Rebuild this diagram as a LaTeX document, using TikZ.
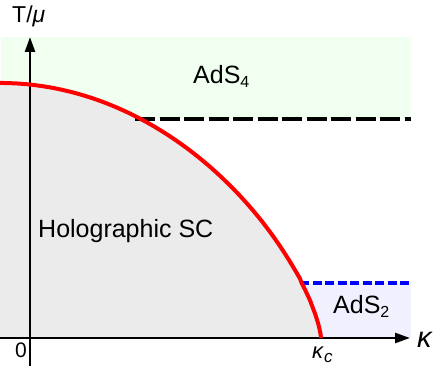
\documentclass[tikz,border=0pt]{standalone}
\usepackage{fontspec}
\setmainfont{Liberation Sans}
\usetikzlibrary{arrows.meta}
\definecolor{bggreen}{HTML}{F0FFF0}
\definecolor{bggray}{HTML}{EBEBEB}
\definecolor{bgblue}{HTML}{F0F0FF}
\tikzset{
  axisline/.style={line width=2.5pt, -{Triangle[length=15pt,width=10pt]}},
  phaseline/.style={red, line width=4pt},
  lbl/.style={anchor=base west, inner sep=0pt, font=\fontsize{25}{30}\selectfont},
  curvedom/.style={domain=0:320.6, samples=250, smooth}
}
\newcommand{\subtxt}[1]{\raisebox{-4pt}{\fontsize{16}{16}\selectfont #1}}
\begin{document}
\begin{tikzpicture}[x=1pt,y=-1pt]
\useasboundingbox (0,0) rectangle (436,366);
% background regions
\fill[bggreen] (1,37) rectangle (411,119);
\fill[bgblue] (300,283) rectangle (411,338);
\fill[bggray] (0,338) -- plot[curvedom] (\x, {338-255*(1-(\x/321)^2)^0.714}) -- (321,338) -- cycle;
% dashed boundaries
\coordinate (bl) at (135,119);
\coordinate (br) at (411,119);
\coordinate (ul) at (300,283);
\coordinate (ur) at (411,283);
\draw[line width=4pt, dash pattern=on 20pt off 4.5pt] (bl) -- (br);
\draw[blue, line width=4pt, dash pattern=on 9pt off 3.5pt] (ul) -- (ur);
% axes
\coordinate (xs) at (0,338);
\coordinate (xe) at (410,338);
\coordinate (ys) at (30,366);
\coordinate (ye) at (30,37);
\draw[axisline] (xs) -- (xe);
\draw[axisline] (ys) -- (ye);
% red curve
\draw[phaseline] plot[curvedom] (\x, {338-255*(1-(\x/321)^2)^0.714}) -- (321,338);
% labels
\node[lbl] (hsc) at (38,237) {Holographic SC};
\node[lbl] (ads4) at (193,84) {AdS\subtxt{4}};
\node[lbl] (ads2) at (333,313) {AdS\subtxt{2}};
\node[anchor=base west, inner sep=0pt, font=\fontsize{23}{27}\selectfont] (tmu) at (12,23) {T/\textit{μ}};
\node[anchor=base west, inner sep=0pt, font=\fontsize{21}{25}\selectfont] (zero) at (15,357) {0};
\node[anchor=base west, inner sep=0pt, font=\fontsize{29}{33}\selectfont] (kap) at (417,347) {\textit{κ}};
\node[anchor=base west, inner sep=0pt, font=\fontsize{22}{26}\selectfont] (kc) at (312,358) {\textit{κ}\raisebox{-4pt}{\fontsize{17}{17}\selectfont\textit{c}}};
\end{tikzpicture}
\end{document}
